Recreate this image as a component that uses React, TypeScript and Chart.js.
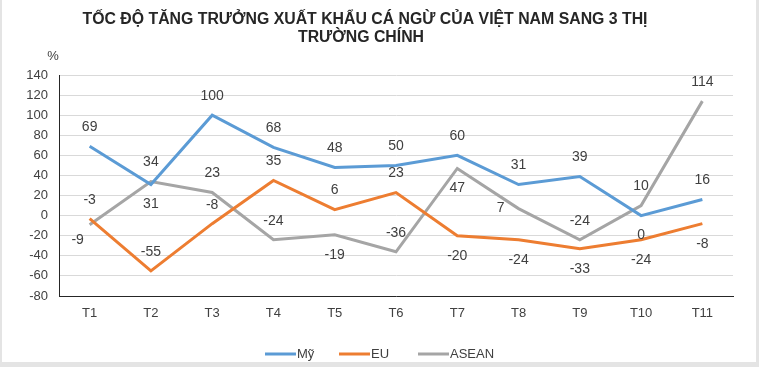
import React, { useEffect, useRef } from "react";
import { Chart, registerables } from "chart.js";

Chart.register(...registerables);

const categories = ["T1", "T2", "T3", "T4", "T5", "T6", "T7", "T8", "T9", "T10", "T11"];
const usValues = [69, 31, 100, 68, 48, 50, 60, 31, 39, 0, 16];
const euValues = [-3, -55, -8, 35, 6, 23, -20, -24, -33, -24, -8];
const aseanValues = [-9, 34, 23, -24, -19, -36, 47, 7, -24, 10, 114];
const seriesNames = ["Mỹ", "EU", "ASEAN"];
const titleLines = ["TỐC ĐỘ TĂNG TRƯỞNG XUẤT KHẨU CÁ NGỪ CỦA VIỆT NAM SANG 3 THỊ", "TRƯỜNG CHÍNH"];
// label placement per point: a=above, b=below, l=left, r=right
const usPos = ["a", "b", "a", "a", "a", "a", "a", "a", "a", "b", "a"];
const euPos = ["a", "a", "a", "a", "a", "a", "b", "b", "b", "b", "b"];
const aseanPos = ["bl", "a", "a", "a", "b", "a", "b", "l", "a", "a", "a"];

const colors = ["#5B9BD5", "#ED7D31", "#A5A5A5"];
const FONT = "'Liberation Sans', Arial, sans-serif";

const positions = [usPos, euPos, aseanPos];

const labelPlugin = {
  id: "customLabels",
  afterDatasetsDraw(chart: any) {
    const ctx = chart.ctx;
    ctx.save();
    ctx.font = `14px ${FONT}`;
    ctx.fillStyle = "#404040";
    ctx.textAlign = "center";
    ctx.textBaseline = "middle";
    chart.data.datasets.forEach((ds: any, i: number) => {
      const meta = chart.getDatasetMeta(i);
      meta.data.forEach((pt: any, j: number) => {
        const p = positions[i][j];
        let x = pt.x;
        let y = pt.y;
        if (p === "a") y -= 19;
        else if (p === "b") y += 20;
        else if (p === "l") x -= 18;
        else if (p === "r") x += 18;
        else if (p === "bl") { x -= 12; y += 15; }
        ctx.fillText(String(ds.data[j]), x, y);
      });
    });
    ctx.restore();
  },
};

function fitText(ctx: CanvasRenderingContext2D, text: string, cx: number, cy: number, width: number) {
  const w = ctx.measureText(text).width;
  const s = width / w;
  ctx.save();
  ctx.translate(cx, cy);
  ctx.scale(s, 1);
  ctx.fillText(text, 0, 0);
  ctx.restore();
  return s;
}

const decorPlugin = {
  id: "decor",
  afterDraw(chart: any) {
    const ctx = chart.ctx;
    ctx.save();
    // frame
    ctx.fillStyle = "#E4E4E4";
    ctx.fillRect(0, 0, 2, 367);
    ctx.fillRect(756, 0, 3, 367);
    ctx.fillRect(0, 362, 759, 5);
    // title
    ctx.fillStyle = "#262626";
    ctx.font = `bold 16px ${FONT}`;
    ctx.textAlign = "center";
    ctx.textBaseline = "middle";
    const w0 = ctx.measureText(titleLines[0]).width;
    const s = fitText(ctx, titleLines[0], 365, 20, 565);
    const w1 = ctx.measureText(titleLines[1]).width * s;
    fitText(ctx, titleLines[1], 361, 38, w1);
    void w0;
    // % unit
    ctx.font = `13px ${FONT}`;
    ctx.fillStyle = "#404040";
    ctx.fillText("%", 53, 56);
    // legend
    const items = [
      { x: 265, name: seriesNames[0], c: colors[0] },
      { x: 339, name: seriesNames[1], c: colors[1] },
      { x: 418, name: seriesNames[2], c: colors[2] },
    ];
    ctx.textAlign = "left";
    ctx.font = `13px ${FONT}`;
    items.forEach((it) => {
      ctx.strokeStyle = it.c;
      ctx.lineWidth = 3;
      ctx.beginPath();
      ctx.moveTo(it.x, 354);
      ctx.lineTo(it.x + 31, 354);
      ctx.stroke();
      ctx.fillStyle = "#404040";
      ctx.fillText(it.name, it.x + 32, 354);
    });
    ctx.restore();
  },
};

export default function App() {
  const ref = useRef<HTMLCanvasElement | null>(null);
  useEffect(() => {
    document.body.style.margin = "0";
    const canvas = ref.current!;
    const chart = new Chart(canvas, {
      type: "line",
      data: {
        labels: categories,
        datasets: [
          { label: seriesNames[0], data: usValues, borderColor: colors[0], backgroundColor: colors[0] },
          { label: seriesNames[1], data: euValues, borderColor: colors[1], backgroundColor: colors[1] },
          { label: seriesNames[2], data: aseanValues, borderColor: colors[2], backgroundColor: colors[2] },
        ].map((d) => ({ ...d, borderWidth: 3, pointRadius: 0, tension: 0 })),
      },
      options: {
        animation: false,
        responsive: false,
        maintainAspectRatio: false,
        layout: { padding: { top: 75, right: 26, left: 0, bottom: 0 } },
        plugins: { legend: { display: false }, title: { display: false }, tooltip: { enabled: false } },
        scales: {
          x: {
            offset: true,
            grid: { display: false, drawTicks: false },
            border: { display: true, color: "#262626", width: 1 },
            ticks: { color: "#404040", font: { family: FONT, size: 13 }, padding: 10 },
            afterFit: (s: any) => { s.height = 71; },
          },
          y: {
            min: -80,
            max: 140,
            ticks: { stepSize: 20, color: "#404040", font: { family: FONT, size: 13 }, padding: 11 },
            grid: { color: "#D9D9D9", drawTicks: false },
            border: { display: true, color: "#262626", width: 1 },
            afterFit: (s: any) => { s.width = 59; },
          },
        },
      },
      plugins: [labelPlugin, decorPlugin],
    });
    return () => chart.destroy();
  }, []);
  return (
    <div style={{ position: "fixed", left: 0, top: 0, width: 759, height: 367, background: "#fff" }}>
      <canvas ref={ref} width={759} height={367} style={{ width: 759, height: 367, display: "block" }} />
    </div>
  );
}
